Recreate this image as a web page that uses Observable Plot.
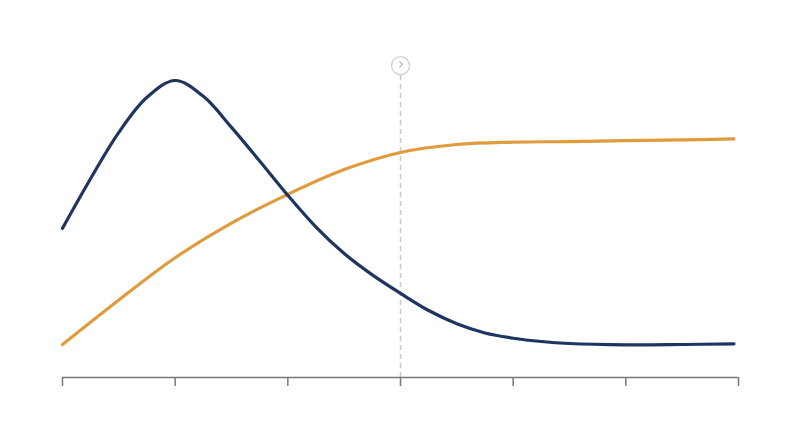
<!DOCTYPE html>
<html>
<head>
<meta charset="utf-8">
<script src="https://cdn.jsdelivr.net/npm/d3@7"></script>
<script src="https://cdn.jsdelivr.net/npm/@observablehq/plot@0.6"></script>
<style>
  html, body { margin: 0; padding: 0; background: #fff; }
  #chart svg { display: block; }
</style>
</head>
<body>
<div id="chart"></div>
<script>
const navyX = [0, 2.5, 5, 7.5, 10, 12.5, 15, 17.5, 20, 22.5, 25, 27.5, 30, 32.5, 35, 37.5, 40, 42.5, 45, 50, 55, 59.6];
const navyY = [45.2, 60.3, 74.3, 84.9, 90.0, 85.2, 75.8, 65.6, 55.2, 45.6, 37.6, 31.1, 25.5, 20.3, 16.3, 13.5, 11.9, 10.9, 10.3, 9.9, 10.0, 10.2];
const orangeX = [0, 5, 10, 15, 20, 25, 30, 35, 40, 45, 50, 55, 59.6];
const orangeY = [10.0, 23.5, 36.3, 46.8, 55.5, 63.0, 68.2, 70.6, 71.3, 71.5, 71.8, 72.0, 72.3];
const xTicks = [0, 10, 20, 30, 40, 50, 60];
const markerX = 30;
const markerY = 94.5;
const markerBottom = 91.8;

const navy = navyX.map((x, i) => ({x, y: navyY[i]}));
const orange = orangeX.map((x, i) => ({x, y: orangeY[i]}));

const chart = Plot.plot({
  width: 800,
  height: 447,
  marginLeft: 62,
  marginRight: 62,
  marginTop: 47,
  marginBottom: 70,
  x: {domain: [0, 60], range: [62, 738], label: null},
  y: {domain: [0, 100], range: [377, 47], axis: null, label: null},
  style: {background: "#fff"},
  marks: [
    Plot.ruleX([markerX], {y1: 0, y2: markerBottom, stroke: "#c8c8c8", strokeWidth: 1.5, strokeDasharray: "5,4"}),
    Plot.ruleY([0], {x1: 0, x2: 60, stroke: "#777", strokeWidth: 1.5}),
    Plot.axisX({ticks: xTicks, tickSize: 9, tickFormat: () => "", stroke: "#777", strokeWidth: 1.5, label: null}),
    Plot.line(orange, {x: "x", y: "y", stroke: "#e09b3d", strokeWidth: 3.2, curve: "catmull-rom"}),
    Plot.line(navy, {x: "x", y: "y", stroke: "#1e3461", strokeWidth: 3.2, curve: "catmull-rom"}),
    Plot.dot([{x: markerX, y: markerY}], {x: "x", y: "y", r: 9, fill: "#fff", stroke: "#d0d0d0", strokeWidth: 1.2}),
    Plot.text([{x: markerX, y: markerY}], {x: "x", y: "y", text: () => "›", fill: "#aaa", fontSize: 15, dy: -1, dx: 0.5, fontFamily: "DejaVu Sans"})
  ]
});
document.getElementById("chart").appendChild(chart);
</script>
</body>
</html>
